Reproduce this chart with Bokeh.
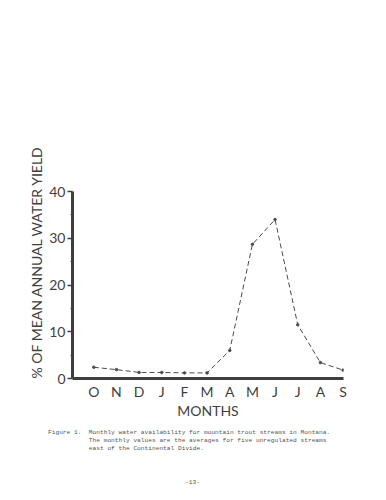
from bokeh.plotting import figure
from bokeh.models import Range1d, FixedTicker, Title, Div
from bokeh.layouts import column
from bokeh.embed import file_html
from bokeh.resources import INLINE

months = ["O", "N", "D", "J", "F", "M", "A", "M", "J", "J", "A", "S"]
pct_yield = [2.4, 1.9, 1.3, 1.3, 1.2, 1.2, 6.0, 28.7, 34.0, 11.5, 3.4, 1.8]
y_ticks = [0, 10, 20, 30, 40]
x_idx = list(range(len(months)))

caption_lines = [
    "Figure 1.  Monthly water availability for mountain trout streams in Montana.",
    "           The monthly values are the averages for five unregulated streams",
    "           east of the Continental Divide.",
]
page_number = "-13-"

INK = "#3f3f3f"
FONT = "Lato"

p = figure(width=378, height=425, output_backend="svg", toolbar_location=None,
           x_range=Range1d(-0.94, 11.02), y_range=Range1d(0, 40),
           min_border_left=72, min_border_right=35, min_border_top=191,
           min_border_bottom=47)
p.outline_line_color = None
p.grid.visible = False
p.background_fill_color = "white"
p.border_fill_color = "white"

p.line(x_idx, pct_yield, line_color="#4a4a4a", line_width=1, line_dash="5 3")
p.scatter(x_idx, pct_yield, size=2.5, color="#4a4a4a")

# axes
ya = p.yaxis[0]
ya.ticker = FixedTicker(ticks=y_ticks, minor_ticks=[5, 15, 25, 35])
ya.axis_line_width = 3
ya.axis_line_color = INK
ya.major_tick_line_color = INK
ya.major_tick_line_width = 1.5
ya.major_tick_out = 5
ya.major_tick_in = 0
ya.minor_tick_line_color = INK
ya.minor_tick_out = 2
ya.minor_tick_in = 0
ya.major_label_text_font = FONT
ya.major_label_text_font_size = "14px"
ya.major_label_text_color = INK
ya.major_label_standoff = 2

xa = p.xaxis[0]
xa.ticker = FixedTicker(ticks=x_idx)
xa.major_label_overrides = {i: m for i, m in enumerate(months)}
xa.axis_line_width = 3
xa.axis_line_color = INK
xa.major_tick_line_color = None
xa.minor_tick_line_color = None
xa.major_label_text_font = FONT
xa.major_label_text_font_size = "14px"
xa.major_label_text_color = INK
xa.major_label_standoff = -2
xa.axis_label = "MONTHS"
xa.axis_label_text_font = FONT
xa.axis_label_text_font_size = "14px"
xa.axis_label_text_font_style = "normal"
xa.axis_label_text_color = INK
xa.axis_label_standoff = -1

ytitle = Title(text="% OF MEAN ANNUAL WATER YIELD", align="left", offset=0,
               text_font=FONT, text_font_size="14px", text_font_style="normal",
               text_color=INK, standoff=4)
p.add_layout(ytitle, "left")

cap_html = (
    '<div style="font-family:\'Liberation Mono\',monospace;font-size:6.2px;'
    'color:#555;white-space:pre;line-height:8px;padding:4px 0 0 48px;">'
    + "\n".join(caption_lines)
    + '</div>'
    + '<div style="font-family:\'Liberation Mono\',monospace;font-size:6.2px;'
    'color:#555;line-height:8px;margin-top:26px;padding-left:185px;">'
    + page_number + '</div>'
)
cap = Div(text=cap_html, width=378, height=66, margin=0)

open("out.html", "w").write(file_html(column(p, cap, spacing=0), INLINE))
